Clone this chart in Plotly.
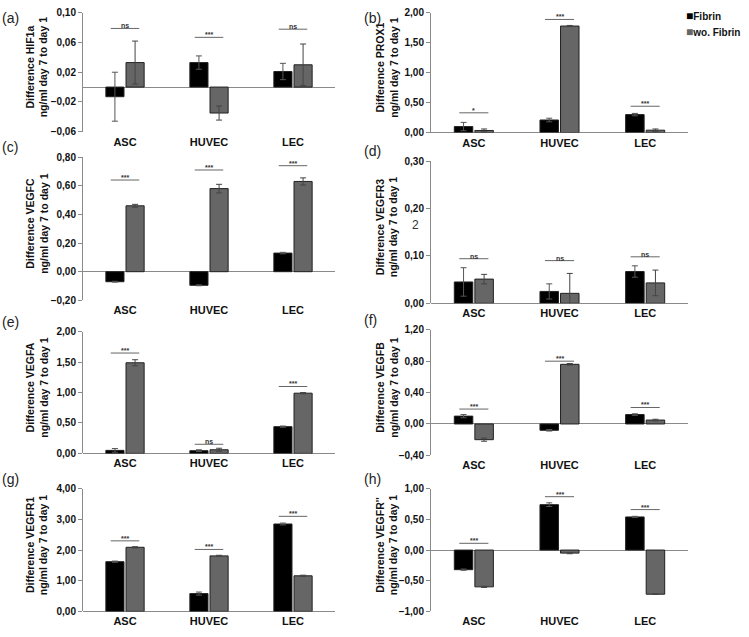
import plotly.graph_objects as go

W, H = 749, 637

cells = ["ASC", "HUVEC", "LEC"]

# bar heights (Fibrin / wo. Fibrin) and error bars, per panel
hif1a_fib = [-0.013, 0.033, 0.021]
hif1a_fib_err = [0.033, 0.009, 0.011]
hif1a_wo = [0.033, -0.035, 0.030]
hif1a_wo_err = [0.029, 0.0095, 0.028]

prox1_fib = [0.10, 0.21, 0.30]
prox1_fib_err = [0.07, 0.03, 0.02]
prox1_wo = [0.035, 1.78, 0.04]
prox1_wo_err = [0.025, 0.01, 0.02]

vegfc_fib = [-0.07, -0.095, 0.13]
vegfc_fib_err = [0.003, 0.003, 0.005]
vegfc_wo = [0.46, 0.58, 0.63]
vegfc_wo_err = [0.01, 0.03, 0.025]

vegfr3_fib = [0.045, 0.025, 0.067]
vegfr3_fib_err = [0.03, 0.016, 0.012]
vegfr3_wo = [0.051, 0.021, 0.043]
vegfr3_wo_err = [0.01, 0.042, 0.027]

vegfa_fib = [0.05, 0.045, 0.44]
vegfa_fib_err = [0.03, 0.015, 0.01]
vegfa_wo = [1.49, 0.06, 0.99]
vegfa_wo_err = [0.05, 0.025, 0.01]

vegfb_fib = [0.10, -0.08, 0.12]
vegfb_fib_err = [0.02, 0.01, 0.01]
vegfb_wo = [-0.20, 0.76, 0.05]
vegfb_wo_err = [0.02, 0.01, 0.01]

vegfr1_fib = [1.62, 0.58, 2.85]
vegfr1_fib_err = [0.02, 0.05, 0.03]
vegfr1_wo = [2.09, 1.81, 1.16]
vegfr1_wo_err = [0.02, 0.02, 0.02]

vegfr2_fib = [-0.32, 0.74, 0.54]
vegfr2_fib_err = [0.01, 0.03, 0.01]
vegfr2_wo = [-0.60, -0.05, -0.72]
vegfr2_wo_err = [0.01, 0.01, 0.005]

# significance bars: height and label per cell
hif1a_sig = [0.079, 0.067, 0.078]
hif1a_sig_txt = ["ns", "***", "ns"]
prox1_sig = [0.33, 1.89, 0.44]
prox1_sig_txt = ["*", "***", "***"]
vegfc_sig = [0.64, 0.71, 0.74]
vegfc_sig_txt = ["***", "***", "***"]
vegfr3_sig = [0.094, 0.09, 0.098]
vegfr3_sig_txt = ["ns", "ns", "ns"]
vegfa_sig = [1.65, 0.15, 1.10]
vegfa_sig_txt = ["***", "ns", "***"]
vegfb_sig = [0.19, 0.80, 0.21]
vegfb_sig_txt = ["***", "***", "***"]
vegfr1_sig = [2.30, 2.02, 3.10]
vegfr1_sig_txt = ["***", "***", "***"]
vegfr2_sig = [0.11, 0.87, 0.66]
vegfr2_sig_txt = ["***", "***", "***"]

panels = [
    # letter, marker name, fib, fib_err, wo, wo_err, sig, sig_txt, yrange, dtick, x px, y px
    ("(a)", "HIF1a", hif1a_fib, hif1a_fib_err, hif1a_wo, hif1a_wo_err, hif1a_sig, hif1a_sig_txt,
     [-0.06, 0.10], 0.04, (83, 335), (7, 128)),
    ("(b)", "PROX1", prox1_fib, prox1_fib_err, prox1_wo, prox1_wo_err, prox1_sig, prox1_sig_txt,
     [0, 2], 0.5, (431, 688), (7, 129)),
    ("(c)", "VEGFC", vegfc_fib, vegfc_fib_err, vegfc_wo, vegfc_wo_err, vegfc_sig, vegfc_sig_txt,
     [-0.2, 0.8], 0.2, (83, 335), (154, 300)),
    ("(d)", "VEGFR3", vegfr3_fib, vegfr3_fib_err, vegfr3_wo, vegfr3_wo_err, vegfr3_sig, vegfr3_sig_txt,
     [0, 0.3], 0.1, (431, 688), (158, 303)),
    ("(e)", "VEGFA", vegfa_fib, vegfa_fib_err, vegfa_wo, vegfa_wo_err, vegfa_sig, vegfa_sig_txt,
     [0, 2], 0.5, (83, 335), (332, 456)),
    ("(f)", "VEGFB", vegfb_fib, vegfb_fib_err, vegfb_wo, vegfb_wo_err, vegfb_sig, vegfb_sig_txt,
     [-0.4, 1.2], 0.4, (431, 688), (330, 458)),
    ("(g)", "VEGFR1", vegfr1_fib, vegfr1_fib_err, vegfr1_wo, vegfr1_wo_err, vegfr1_sig, vegfr1_sig_txt,
     [0, 4], 1, (83, 335), (492, 617)),
    ("(h)", "VEGFR''", vegfr2_fib, vegfr2_fib_err, vegfr2_wo, vegfr2_wo_err, vegfr2_sig, vegfr2_sig_txt,
     [-1, 1], 0.5, (431, 688), (492, 617)),
]

legend_names = ["Fibrin", "wo. Fibrin"]
legend_colors = ["#000000", "#666666"]

FONT = "Liberation Sans, Arial, sans-serif"
AX = "#8a8a8a"

fig = go.Figure()
layout = {}
annotations = []
shapes = []

for i, (letter, name, fib, fib_e, wo, wo_e, sig, sig_txt, yr, dt, xp, yp) in enumerate(panels):
    n = "" if i == 0 else str(i + 1)
    xa, ya = "x" + n, "y" + n
    fig.add_trace(go.Bar(x=cells, y=fib, name=legend_names[0], xaxis=xa, yaxis=ya,
                         marker=dict(color=legend_colors[0], line=dict(color="#222222", width=1)),
                         error_y=dict(type="data", array=fib_e, color="#555555", thickness=1, width=3),
                         showlegend=False))
    fig.add_trace(go.Bar(x=cells, y=wo, name=legend_names[1], xaxis=xa, yaxis=ya,
                         marker=dict(color=legend_colors[1], line=dict(color="#222222", width=1)),
                         error_y=dict(type="data", array=wo_e, color="#444444", thickness=1, width=3),
                         showlegend=False))
    layout["xaxis" + n] = dict(domain=[xp[0] / W, xp[1] / W], anchor=ya, range=[-0.5, 2.5],
                               showline=False, ticks="", showgrid=False, ticklabelstandoff=2,
                               tickfont=dict(family=FONT, size=11, color="#111111", weight="bold"))
    layout["yaxis" + n] = dict(domain=[1 - yp[1] / H, 1 - yp[0] / H], anchor=xa, range=yr,
                               tick0=yr[0], dtick=dt, tickformat=".2f", showgrid=False,
                               showline=True, linecolor=AX, linewidth=1, ticks="outside",
                               ticklen=4, tickcolor=AX, zeroline=True, zerolinecolor=AX,
                               zerolinewidth=1.2,
                               tickfont=dict(family=FONT, size=10, color="#111111", weight="bold"))
    # significance bars
    for k in range(3):
        shapes.append(dict(type="line", xref=xa, yref=ya, x0=k - 0.17, x1=k + 0.17,
                           y0=sig[k], y1=sig[k], line=dict(color="#666666", width=1)))
        annotations.append(dict(xref=xa, yref=ya, x=k, y=sig[k], text=sig_txt[k],
                                showarrow=False, yanchor="bottom", yshift=-3,
                                font=dict(family=FONT, size=7, color="#333333", weight="bold")))
    # y label
    left = xp[0] < 200
    annotations.append(dict(xref="paper", yref="paper", xanchor="center", yanchor="middle",
                            x=(37 if left else 387) / W, y=1 - ((yp[0] + yp[1]) / 2 - 5) / H,
                            text="Difference " + name + "<br>ng/ml day 7 to day 1",
                            textangle=-90, showarrow=False,
                            font=dict(family=FONT, size=10.5, color="#111111", weight="bold")))
    # panel letter
    annotations.append(dict(xref="paper", yref="paper", x=(0 if left else 362) / W,
                            y=1 - (yp[0] + 5 if i < 2 else yp[0] - 10) / H,
                            xanchor="left", yanchor="middle", text=letter, showarrow=False,
                            font=dict(family=FONT, size=14, color="#222222")))

# legend, drawn as text in the top right corner
for j, (nm, col) in enumerate(zip(legend_names, legend_colors)):
    annotations.append(dict(xref="paper", yref="paper", x=684 / W, y=1 - (10 + 17 * j) / H,
                            xanchor="left", yanchor="middle", showarrow=False,
                            text="<span style='color:%s;font-size:12px'>■</span>%s" % (col, nm),
                            font=dict(family=FONT, size=10, color="#111111", weight="bold")))

annotations.append(dict(xref="paper", yref="paper", x=415 / W, y=1 - 223 / H, text="2",
                        showarrow=False, font=dict(family=FONT, size=12, color="#333333")))

fig.update_layout(**layout)
fig.update_layout(
    width=W, height=H, margin=dict(l=0, r=0, t=0, b=0),
    paper_bgcolor="white", plot_bgcolor="white",
    barmode="group", bargap=0.52, bargroupgap=0.1,
    separators=",.",
    annotations=annotations, shapes=shapes,
    font=dict(family=FONT),
)

fig.write_html("out.html", config={"displayModeBar": False},
               post_script="document.body.style.margin='0';")
